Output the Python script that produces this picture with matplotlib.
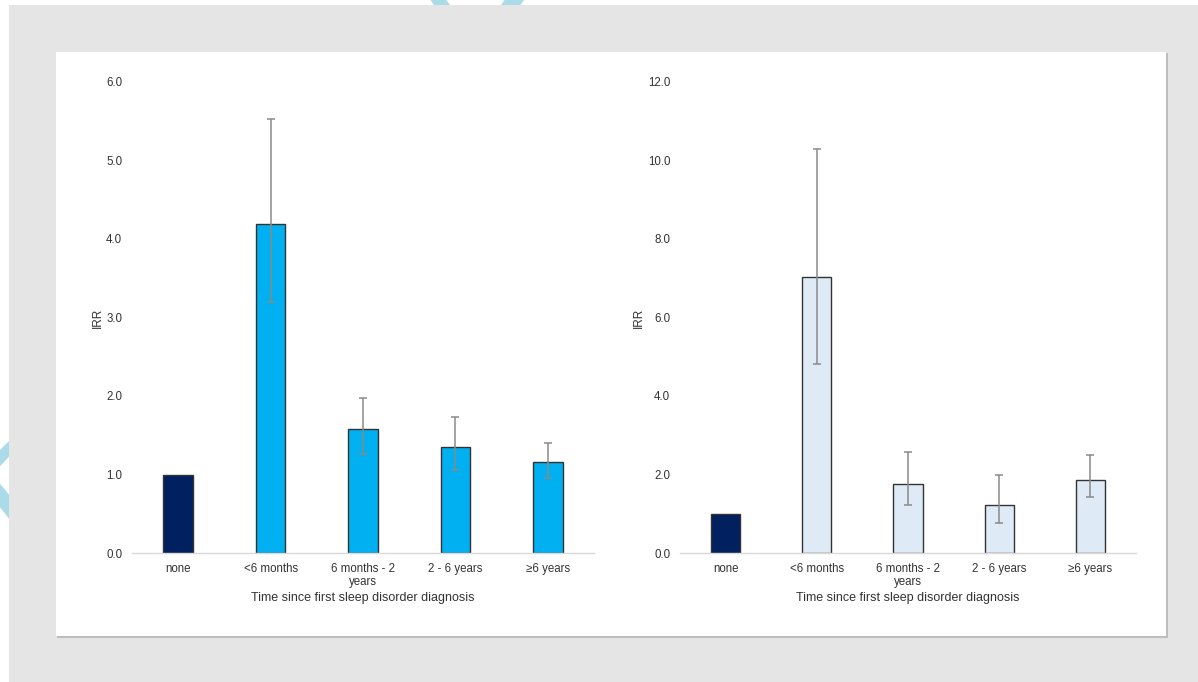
import matplotlib
matplotlib.use("Agg")
import matplotlib.pyplot as plt
from matplotlib.patches import Rectangle, Polygon

plt.rcParams['font.family'] = ['Liberation Sans', 'DejaVu Sans']

categories = ["none", "<6 months", "6 months - 2\nyears", "2 - 6 years", "\u22656 years"]

left_irr = [1.00, 4.19, 1.58, 1.35, 1.16]
left_lo = [1.00, 3.20, 1.26, 1.06, 0.96]
left_hi = [1.00, 5.53, 1.97, 1.73, 1.40]

right_irr = [1.00, 7.03, 1.76, 1.22, 1.86]
right_lo = [1.00, 4.82, 1.22, 0.76, 1.43]
right_hi = [1.00, 10.29, 2.57, 1.99, 2.50]

left_ticks = [0.0, 1.0, 2.0, 3.0, 4.0, 5.0, 6.0]
right_ticks = [0.0, 2.0, 4.0, 6.0, 8.0, 10.0, 12.0]

ref_color = "#002060"
left_color = "#00b0f0"
right_color = "#deebf7"

W, H = 1198, 682
fig = plt.figure(figsize=(W / 100, H / 100), dpi=100)
fig.patch.set_facecolor("white")


def px(x, y):
    return (x / W, 1 - y / H)


# decorative watermark strokes (mostly hidden under the grey backdrop)
wm = "#a9dbe8"
for pts in [
    [(427, -5), (443, -5), (452, 8), (436, 8)],
    [(508, -5), (528, -5), (518, 8), (499, 8)],
    [(-20, 470), (20, 430), (25, 440), (-15, 482)],
    [(-20, 482), (-8, 474), (30, 520), (18, 530)],
]:
    fig.patches.append(Polygon([px(*p) for p in pts], closed=True,
                               transform=fig.transFigure, facecolor=wm,
                               edgecolor="none", zorder=0))

# grey backdrop
fig.patches.append(Rectangle(px(9, 682), (W - 9) / W, (682 - 5) / H,
                             transform=fig.transFigure, facecolor="#e5e5e5",
                             edgecolor="none", zorder=1))
# card shadow
fig.patches.append(Rectangle(px(57, 638), (1168 - 57) / W, (638 - 53) / H,
                             transform=fig.transFigure, facecolor="#bdbdbd",
                             edgecolor="none", zorder=2))
# white card
fig.patches.append(Rectangle(px(56, 636), (1166 - 56) / W, (636 - 52) / H,
                             transform=fig.transFigure, facecolor="white",
                             edgecolor="none", zorder=3))


def panel(rect, irr, lo, hi, ticks, color):
    ax = fig.add_axes(rect)
    ax.set_facecolor("none")
    x = list(range(len(categories)))
    colors = [ref_color] + [color] * (len(categories) - 1)
    yerr = [[v - l for v, l in zip(irr, lo)], [h - v for v, h in zip(irr, hi)]]
    ax.bar(x, irr, width=0.32, color=colors, edgecolor="#333333",
           linewidth=1.0, zorder=2)
    ax.errorbar(x[1:], irr[1:], yerr=[yerr[0][1:], yerr[1][1:]], fmt="none",
                ecolor="#8a8a8a", elinewidth=1.1, capsize=3, capthick=1.1,
                zorder=3)
    ax.set_xlim(-0.5, len(categories) - 0.5)
    ax.set_ylim(ticks[0], ticks[-1])
    ax.set_yticks(ticks)
    ax.set_yticklabels([f"{t:.1f}" for t in ticks])
    ax.set_xticks(x)
    ax.set_xticklabels(categories, linespacing=1.15)
    for s in ["left", "right", "top"]:
        ax.spines[s].set_visible(False)
    ax.spines["bottom"].set_color("#d9d9d9")
    ax.spines["bottom"].set_linewidth(1.0)
    ax.tick_params(axis="both", length=0, labelsize=8.3, colors="#333333")
    ax.tick_params(axis="x", pad=7)
    ax.tick_params(axis="y", pad=7)
    ax.set_ylabel("IRR", fontsize=8.5, color="#333333", labelpad=2)
    ax.set_xlabel("Time since first sleep disorder diagnosis", fontsize=9,
                  color="#333333", labelpad=3)
    ax.set_zorder(5)
    return ax


b = 1 - 553 / H
h = (553 - 82) / H
panel([132 / W, b, (594 - 132) / W, h], left_irr, left_lo, left_hi,
      left_ticks, left_color)
panel([680 / W, b, (1136 - 680) / W, h], right_irr, right_lo, right_hi,
      right_ticks, right_color)

fig.savefig("out.png", dpi=100, facecolor=fig.get_facecolor())
